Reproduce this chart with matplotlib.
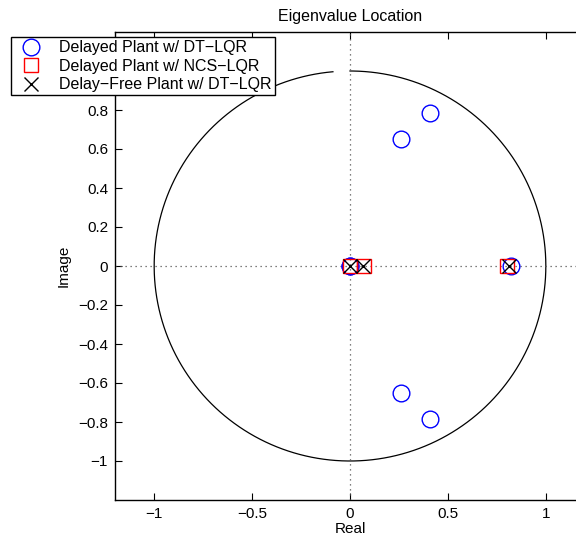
import numpy as np
import matplotlib
matplotlib.use("Agg")
import matplotlib.pyplot as plt

plt.rcParams['font.family'] = ['Liberation Sans', 'DejaVu Sans']

# Eigenvalues (real, imag)
dt_lqr_re = [0.0, 0.0, 0.822, 0.262, 0.262, 0.409, 0.409]
dt_lqr_im = [0.0, 0.0, 0.0, 0.650, -0.650, 0.786, -0.786]

ncs_lqr_re = [0.0, 0.072, 0.80]
ncs_lqr_im = [0.0, 0.0, 0.0]

free_re = [0.0, 0.065, 0.81]
free_im = [0.0, 0.0, 0.0]

labels = ['Delayed Plant w/ DT\u2212LQR',
          'Delayed Plant w/ NCS\u2212LQR',
          'Delay\u2212Free Plant w/ DT\u2212LQR']

xticks = [-1, -0.5, 0, 0.5, 1]
yticks = [-1, -0.8, -0.6, -0.4, -0.2, 0, 0.2, 0.4, 0.6, 0.8, 1]

W, H = 576, 542
fig = plt.figure(figsize=(W / 100, H / 100), dpi=100)
ax = fig.add_axes([115 / W, (H - 500) / H, 470 / W, 468 / H])

# unit circle (arc with small gap near top)
th = np.linspace(np.deg2rad(95), np.deg2rad(450), 400)
ax.plot(np.cos(th), np.sin(th), color='black', lw=0.9)

ax.axhline(0, color='#555555', ls=(0, (1, 3)), lw=0.9)
ax.axvline(0, color='#555555', ls=(0, (1, 3)), lw=0.9)

h1, = ax.plot(dt_lqr_re, dt_lqr_im, 'o', ms=12, mfc='none', mec='blue', mew=1.0)
h2, = ax.plot(ncs_lqr_re, ncs_lqr_im, 's', ms=10.5, mfc='none', mec='red', mew=1.0)
h3, = ax.plot(free_re, free_im, 'x', ms=10, color='black', mew=1.0)

ax.set_xlim(-1.2, 1.2)
ax.set_ylim(-1.2, 1.2)
ax.set_xticks(xticks)
ax.set_xticklabels(['\u22121', '\u22120.5', '0', '0.5', '1'])
ax.set_yticks(yticks)
# the "1" label sits hidden behind the legend in the reference
ax.set_yticklabels(['\u22121', '\u22120.8', '\u22120.6', '\u22120.4', '\u22120.2',
                    '0', '0.2', '0.4', '0.6', '0.8', ''])
ax.tick_params(direction='in', length=5, width=0.8, top=True, right=True,
               labelsize=11, pad=5)
for s in ax.spines.values():
    s.set_linewidth(1.0)

ax.set_xlabel('Real', fontsize=11, labelpad=1)
ax.set_ylabel('Image', fontsize=11, labelpad=5)
ax.set_title('Eigenvalue Location', fontsize=11.5, pad=8)

leg = ax.legend([h1, h2, h3], labels, loc='upper left',
                bbox_to_anchor=(11 / W, 1 - 37 / H), bbox_transform=fig.transFigure,
                fontsize=11.5, frameon=True, fancybox=False, edgecolor='black',
                borderpad=0.2, labelspacing=0.22, handlelength=2.1,
                handletextpad=0.7, borderaxespad=0, framealpha=1)
leg.get_frame().set_linewidth(1.0)
leg.set_zorder(10)

fig.savefig('out.png', dpi=100, facecolor='white')
